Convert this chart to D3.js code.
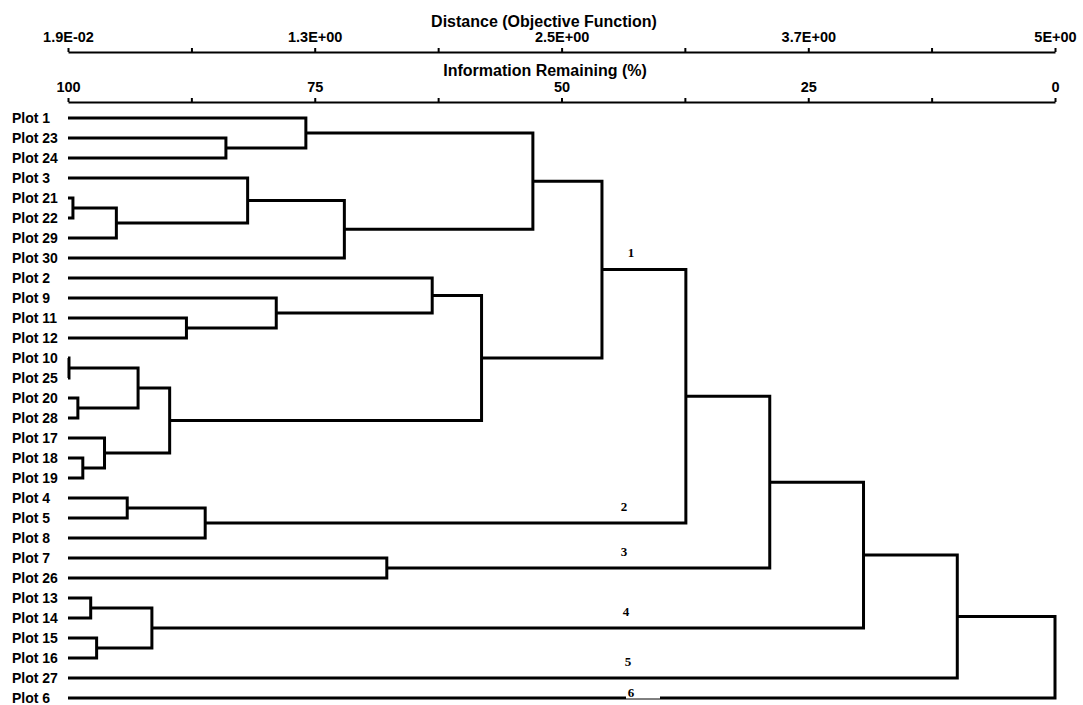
<!DOCTYPE html>
<html>
<head>
<meta charset="utf-8">
<script src="https://cdn.jsdelivr.net/npm/d3@7"></script>
<style>
  html, body { margin: 0; padding: 0; background: #fff; }
  svg { display: block; }
</style>
</head>
<body>
<svg id="chart" width="1083" height="705"></svg>
<script>
// ---- data ----
const plots = ["Plot 1","Plot 23","Plot 24","Plot 3","Plot 21","Plot 22","Plot 29","Plot 30",
  "Plot 2","Plot 9","Plot 11","Plot 12","Plot 10","Plot 25","Plot 20","Plot 28","Plot 17",
  "Plot 18","Plot 19","Plot 4","Plot 5","Plot 8","Plot 7","Plot 26","Plot 13","Plot 14",
  "Plot 15","Plot 16","Plot 27","Plot 6"];

// merges: node "m<i>" joins mergeA[i] and mergeB[i] at mergeInfo[i] (% information remaining)
const mergeA = ["Plot 21","m0","Plot 3","Plot 23","Plot 1","m2","m4","Plot 11","Plot 9","Plot 2",
  "Plot 10","Plot 20","m10","Plot 18","Plot 17","m12","m9","m6","Plot 4","m18","m17","Plot 7",
  "m20","Plot 13","Plot 15","m23","m22","m26","m27"];
const mergeB = ["Plot 22","Plot 29","m1","Plot 24","m3","Plot 30","m5","Plot 12","m7","m8",
  "Plot 25","Plot 28","m11","Plot 19","m13","m14","m15","m16","Plot 5","Plot 8","m19","Plot 26",
  "m21","Plot 14","Plot 16","m24","m25","Plot 27","Plot 6"];
const mergeInfo = [99.5,95.1,81.8,84.0,75.9,72.0,52.9,88.0,78.9,63.1,
  99.9,99.0,92.9,98.5,96.3,89.7,58.1,45.9,94.0,86.1,37.4,67.7,
  28.9,97.7,97.1,91.5,19.4,9.9,0];

const infoTicks = [100,87.5,75,62.5,50,37.5,25,12.5,0];
const infoLabels = ["100","","75","","50","","25","","0"];
const distTicks = [0.019,0.642,1.264,1.887,2.51,3.132,3.755,4.377,5.0];
const distLabels = ["1.9E-02","","1.3E+00","","2.5E+00","","3.7E+00","","5E+00"];
const clusterNames = ["1","2","3","4","5","6"];
const clusterNodes = ["m17","m19","m21","m25","Plot 27","Plot 6"];

// ---- scales ----
const svg = d3.select("#chart");
const X0 = 68, X1 = 1055;
const xInfo = d3.scaleLinear().domain([100, 0]).range([X0, X1]);
const xDist = d3.scaleLinear().domain([0.019, 5.0]).range([X0, X1]);
const y = d3.scalePoint().domain(plots).range([118, 698]);

const sans = "'Liberation Sans', Arial, Helvetica, sans-serif";
const serif = "'Liberation Serif', 'Times New Roman', serif";

// ---- axes ----
function styleAxis(g) {
  g.select(".domain").attr("stroke", "#000").attr("stroke-width", 2);
  g.selectAll(".tick line").attr("stroke", "#000").attr("stroke-width", 2);
  g.selectAll(".tick text").attr("fill", "#000").attr("font-family", sans)
    .attr("font-weight", "bold").attr("font-size", 14.5);
}
const axTop = svg.append("g").attr("transform", "translate(0,52)")
  .call(d3.axisTop(xDist).tickValues(distTicks).tickSizeInner(4).tickSizeOuter(0).tickPadding(6)
    .tickFormat((d, i) => distLabels[i]));
styleAxis(axTop);
const axInfo = svg.append("g").attr("transform", "translate(0,102)")
  .call(d3.axisTop(xInfo).tickValues(infoTicks).tickSizeInner(4).tickSizeOuter(0).tickPadding(6)
    .tickFormat((d, i) => infoLabels[i]));
styleAxis(axInfo);

svg.append("text").attr("x", 544).attr("y", 27).attr("text-anchor", "middle")
  .attr("font-family", sans).attr("font-weight", "bold").attr("font-size", 16)
  .text("Distance (Objective Function)");
svg.append("text").attr("x", 545).attr("y", 76).attr("text-anchor", "middle")
  .attr("font-family", sans).attr("font-weight", "bold").attr("font-size", 16)
  .text("Information Remaining (%)");

// ---- dendrogram nodes ----
const nodes = {};
plots.forEach(p => nodes[p] = { x: xInfo(100), y: y(p) });
mergeInfo.forEach((v, i) => {
  const a = nodes[mergeA[i]], b = nodes[mergeB[i]];
  nodes["m" + i] = { x: xInfo(v), y: (a.y + b.y) / 2, a, b };
});

const links = mergeInfo.map((v, i) => nodes["m" + i]);
svg.append("g").selectAll("path").data(links).join("path")
  .attr("d", n => {
    const p = d3.path();
    p.moveTo(n.a.x, n.a.y); p.lineTo(n.x, n.a.y); p.lineTo(n.x, n.b.y); p.lineTo(n.b.x, n.b.y);
    return p.toString();
  })
  .attr("fill", "none").attr("stroke", "#000").attr("stroke-width", 3)
  .attr("stroke-linejoin", "miter");

// leaf labels
svg.append("g").selectAll("text").data(plots).join("text")
  .attr("x", 12).attr("y", d => y(d)).attr("dy", "0.36em")
  .attr("font-family", sans).attr("font-weight", "bold").attr("font-size", 14)
  .attr("fill", "#000").text(d => d);

// cluster labels
const clusterX = [631, 624, 624, 626, 628, 631];
const cg = svg.append("g");
cg.append("rect").attr("x", 626).attr("y", 688).attr("width", 34).attr("height", 10.5).attr("fill", "#fff");
cg.selectAll("text").data(clusterNames).join("text")
  .attr("x", (d, i) => clusterX[i])
  .attr("y", (d, i) => {
    const n = nodes[clusterNodes[i]];
    return n.y - (i === 5 ? 6 : 17);
  })
  .attr("dy", "0.35em").attr("text-anchor", "middle")
  .attr("font-family", serif).attr("font-weight", "bold").attr("font-size", 13)
  .attr("fill", "#000").text(d => d);
</script>
</body>
</html>
